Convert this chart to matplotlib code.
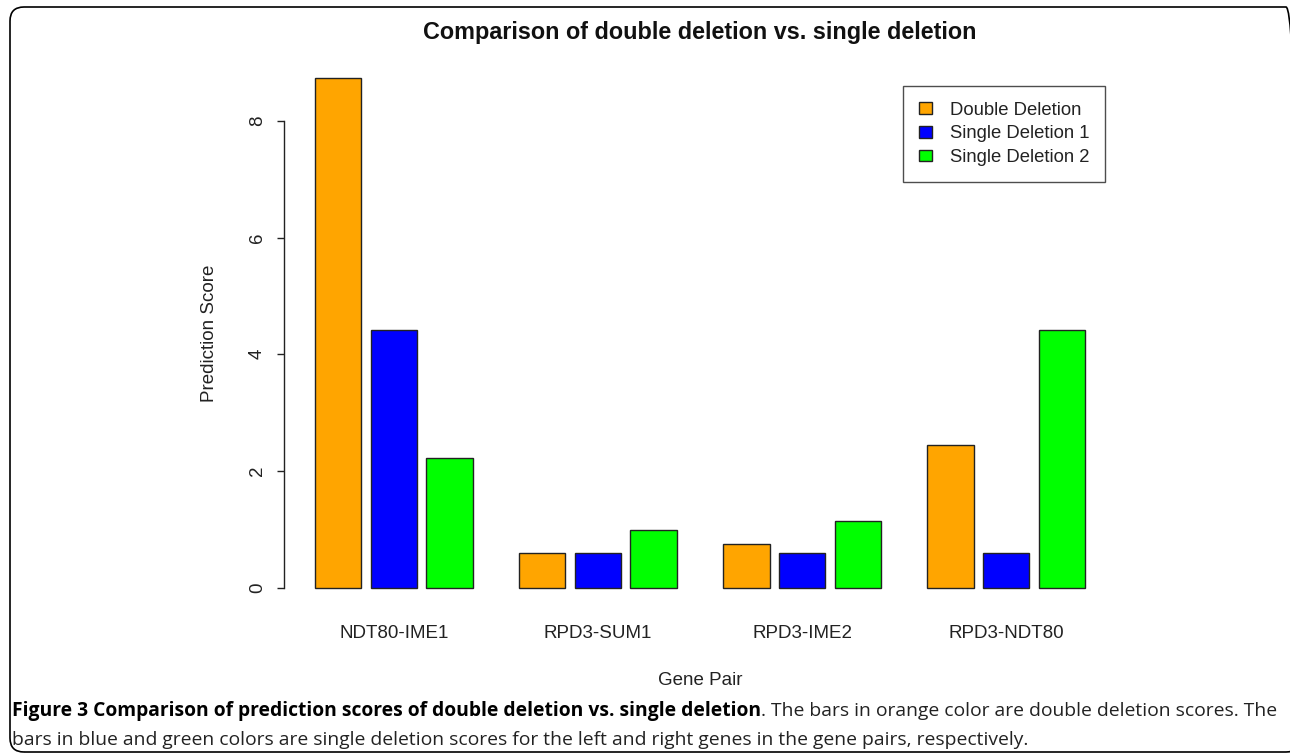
import numpy as np
import matplotlib
matplotlib.use("Agg")
import matplotlib.pyplot as plt
from matplotlib import font_manager
from matplotlib.patches import Patch, FancyBboxPatch
from matplotlib.transforms import IdentityTransform

# data
pairs = ["NDT80-IME1", "RPD3-SUM1", "RPD3-IME2", "RPD3-NDT80"]
series = ["Double Deletion", "Single Deletion 1", "Single Deletion 2"]
double_del = [8.73, 0.60, 0.74, 2.45]
single_del1 = [4.42, 0.60, 0.60, 0.60]
single_del2 = [2.23, 0.98, 1.15, 4.42]
colors = ["#FFA500", "#0000FF", "#00FF00"]
yticks = [0, 2, 4, 6, 8]

title = "Comparison of double deletion vs. single deletion"
cap_bold = "Figure 3 Comparison of prediction scores of double deletion vs. single deletion"
cap_rest = ". The bars in orange color are double deletion scores. The"
cap_line2 = ("bars in blue and green colors are single deletion scores for the left "
             "and right genes in the gene pairs, respectively.")

plt.rcParams['font.family'] = ['Liberation Sans', 'DejaVu Sans']

W, H = 1290, 756
fig = plt.figure(figsize=(W / 100, H / 100), dpi=100)

# plot region in pixels (like R's barplot layout)
L, R_, T, B = 284, 1116, 58, 608
ax = fig.add_axes([L / W, 1 - B / H, (R_ - L) / W, (B - T) / H])

# R style beside barplot: width 1, space 0.2 inside group, 1 between groups
vals = [double_del, single_del1, single_del2]
ngrp = len(pairs)
nser = len(vals)
group_w = nser + 0.2 * (nser - 1) + 1
for j, v in enumerate(vals):
    lefts = [1 + group_w * i + 1.2 * j for i in range(ngrp)]
    ax.bar(lefts, v, width=1, align='edge', color=colors[j],
           edgecolor='#222222', linewidth=1.0)

x_lo = 1
x_hi = 1 + group_w * (ngrp - 1) + 1.2 * (nser - 1) + 1
ext = 0.04 * (x_hi - x_lo)
ax.set_xlim(x_lo - ext, x_hi + ext)
ymax = max(max(v) for v in vals)
ax.set_ylim(-0.04 * ymax, ymax * 1.04)

centers = [1 + group_w * i + (nser + 0.2 * (nser - 1)) / 2 for i in range(ngrp)]
ax.set_xticks(centers)
ax.set_xticklabels(pairs, fontsize=13.5, color='#222222')
ax.tick_params(axis='x', length=0, pad=12)

ax.set_yticks(yticks)
ax.set_yticklabels([str(t) for t in yticks], rotation=90, va='center',
                   fontsize=13.5, color='#222222')
ax.tick_params(axis='y', length=5, width=1.0, color='#222222', pad=8)

for s in ['top', 'right', 'bottom']:
    ax.spines[s].set_visible(False)
ax.spines['left'].set_bounds(0, 8)
ax.spines['left'].set_color('#222222')
ax.spines['left'].set_linewidth(1.0)

ax.set_xlabel("Gene Pair", fontsize=13.5, color='#222222', labelpad=22)
ax.set_ylabel("Prediction Score", fontsize=13.5, color='#222222', labelpad=22)

fig.text((L + R_) / 2 / W, 1 - 32 / H, title, ha='center', va='center',
         fontsize=16.8, fontweight='bold', color='#111111')

handles = [Patch(facecolor=c, edgecolor='#222222', linewidth=1.0) for c in colors]
leg = ax.legend(handles, series, loc='upper left',
                bbox_to_anchor=(903 / W, 1 - 86 / H),
                bbox_transform=fig.transFigure, fontsize=13.3,
                frameon=True, fancybox=False, edgecolor='#222222',
                borderpad=0.85, handlelength=0.7, handleheight=0.6,
                handletextpad=1.0, labelspacing=0.36, borderaxespad=0)
leg.get_frame().set_linewidth(1.0)
for t in leg.get_texts():
    t.set_color('#222222')

# caption, fitted to the width of the panel
cap_fonts = ['Liberation Sans Narrow', 'Open Sans', 'DejaVu Sans']
cap_font = 'Open Sans'
for f in cap_fonts:
    try:
        font_manager.findfont(f, fallback_to_default=False)
        cap_font = f
        break
    except Exception:
        pass

renderer = fig.canvas.get_renderer()
fs = 13
x0 = 12 / W
t1 = fig.text(x0, 1 - 711 / H, cap_bold, fontsize=fs, fontweight='bold',
              family=cap_font, va='center', ha='left', color='black')
t2 = fig.text(x0, 1 - 711 / H, cap_rest, fontsize=fs, family=cap_font,
              va='center', ha='left', color='#222222')
for _ in range(4):
    w1 = t1.get_window_extent(renderer).width
    w2 = t2.get_window_extent(renderer).width
    fs = fs * (1268 / (w1 + w2))
    t1.set_fontsize(fs)
    t2.set_fontsize(fs)
w1 = t1.get_window_extent(renderer).width
t2.set_x(x0 + w1 / W)
fig.text(x0, 1 - 740 / H, cap_line2, fontsize=fs, family=cap_font,
         va='center', ha='left', color='#222222')

# rounded panel border
border = FancyBboxPatch((10, 4), 1290, 745,
                        boxstyle="round,pad=0,rounding_size=14",
                        transform=IdentityTransform(), facecolor='none',
                        edgecolor='black', linewidth=1.2)
fig.add_artist(border)

fig.savefig("out.png", dpi=100)
